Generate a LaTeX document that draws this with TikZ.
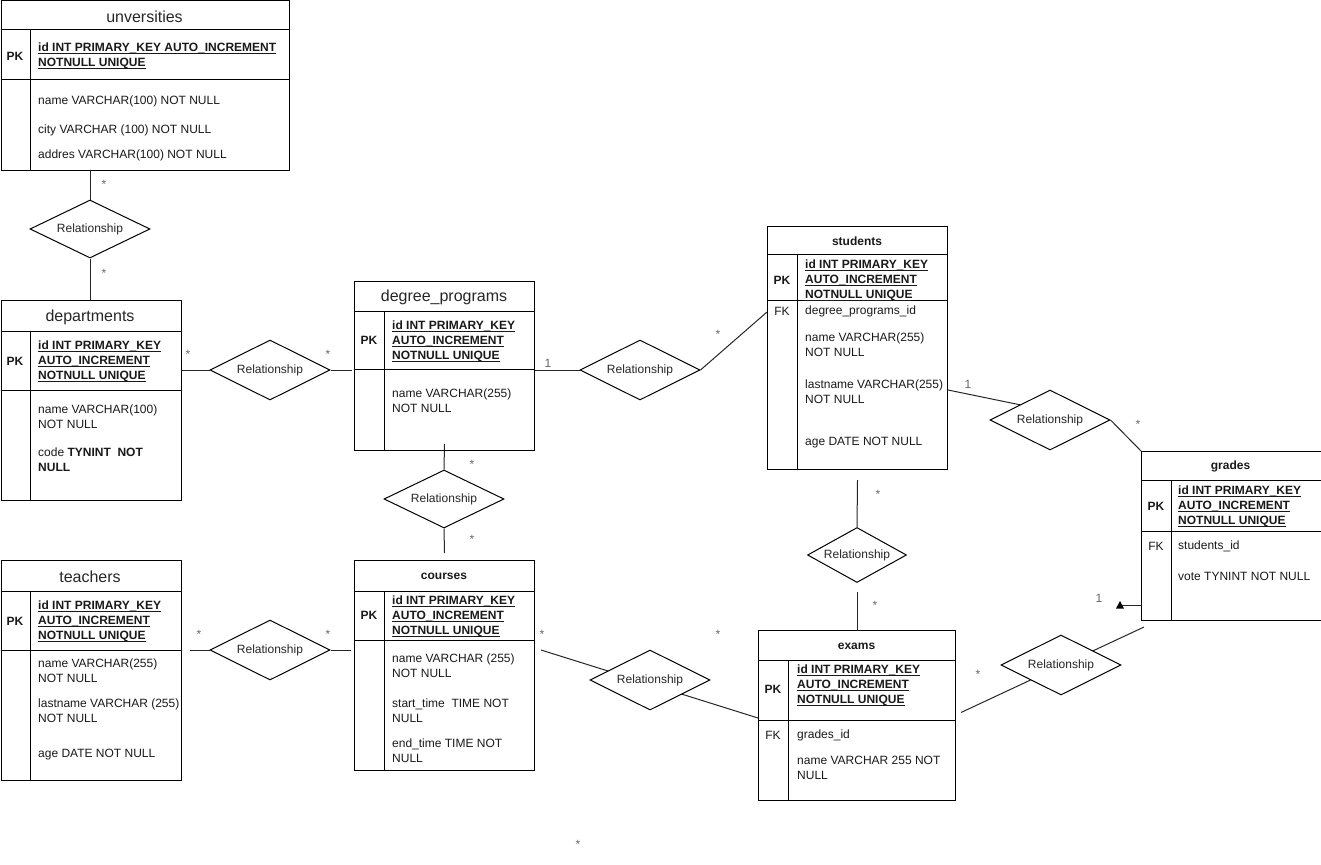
\documentclass[tikz,border=0pt]{standalone}
\usepackage{fontspec}
\setmainfont{Liberation Sans}
\usetikzlibrary{shapes.geometric,calc,backgrounds}
\newcommand{\idu}[1]{\sbox0{#1}\rlap{\rule[-2.5pt]{\wd0}{1pt}}\usebox0}
\newcommand{\fs}{\fontsize{12}{15}\selectfont}
\newcommand{\ft}{\fontsize{16}{19}\selectfont}
% #1 name, #2 x1, #3 y1, #4 x2, #5 y2, #6 title bottom, #7 key bottom
\newcommand{\ertable}[7]{%
  \node[tbl, anchor=north west, minimum width={#4-#2}, minimum height={#5-#3}] (#1) at (#2,#3) {};
  \draw[line width=1pt] (#2,#6) -- (#4,#6);
  \draw[line width=1pt] (#2,#7) -- (#4,#7);
  \draw[line width=1pt] (#2+30,#6) -- (#2+30,#5);
}
\begin{document}
\begin{tikzpicture}[x=1pt,y=-1pt,
  tbl/.style={draw, line width=1pt, inner sep=0pt},
  txt/.style={anchor=west, align=left, inner sep=0pt, font=\fs, text=black!90, yshift=-1pt},
  idt/.style={anchor=west, align=left, inner sep=0pt, font=\fs\bfseries, text=black!90, yshift=-1pt},
  ttl/.style={inner sep=0pt, font=\ft, text=black!85, yshift=-1pt},
  bttl/.style={inner sep=0pt, font=\fs\bfseries, text=black!90, yshift=-1pt},
  keyl/.style={inner sep=0pt, font=\fs\bfseries, text=black!90, yshift=-1pt},
  fkl/.style={inner sep=0pt, font=\fs, text=black!90, yshift=-1pt},
  rel/.style={diamond, draw, fill=white, aspect=2, inner sep=0pt, line width=1pt,
              minimum width=120pt, minimum height=60pt, font=\fs, text=black!85},
  card/.style={inner sep=0pt, font=\fs, text=black!60},
  conn/.style={line width=1pt, draw=black!85}]
\useasboundingbox (0,0) rectangle (1321,864);

% ---------- tables ----------
\ertable{univ}{0.5}{0.5}{289}{170}{30}{80}
\node[ttl] (univ-t) at (144.5,16) {unversities};
\node[keyl] (univ-pk) at (15,55) {PK};
\node[idt] (univ-id) at (38,55) {\idu{id INT PRIMARY\_KEY AUTO\_INCREMENT}\\\idu{NOTNULL UNIQUE}};
\node[txt] (univ-a1) at (38,100) {name VARCHAR(100) NOT NULL};
\node[txt] (univ-a2) at (38,129) {city VARCHAR (100) NOT NULL};
\node[txt] (univ-a3) at (38,154) {addres VARCHAR(100) NOT NULL};

\ertable{dept}{0.5}{300}{181}{500}{331}{390}
\node[ttl] (dept-t) at (90,316) {departments};
\node[keyl] (dept-pk) at (15,360) {PK};
\node[idt] (dept-id) at (38,360) {\idu{id INT PRIMARY\_KEY}\\\idu{AUTO\_INCREMENT}\\\idu{NOTNULL UNIQUE}};
\node[txt] (dept-a1) at (38,415.5) {name VARCHAR(100)\\NOT NULL};
\node[txt] (dept-a2) at (38,458.5) {code \textbf{TYNINT\ \ NOT}\\\textbf{NULL}};

\ertable{dpr}{354}{281}{534}{450}{311}{369}
\node[ttl] (dpr-t) at (444,296) {degree\_programs};
\node[keyl] (dpr-pk) at (369,339) {PK};
\node[idt] (dpr-id) at (392,340) {\idu{id INT PRIMARY\_KEY}\\\idu{AUTO\_INCREMENT}\\\idu{NOTNULL UNIQUE}};
\node[txt] (dpr-a1) at (392,400) {name VARCHAR(255)\\NOT NULL};

\ertable{stu}{767}{226}{947}{469}{254}{300}
\node[bttl] (stu-t) at (857,240) {students};
\node[keyl] (stu-pk) at (782,279) {PK};
\node[idt] (stu-id) at (805,279) {\idu{id INT PRIMARY\_KEY}\\\idu{AUTO\_INCREMENT}\\\idu{NOTNULL UNIQUE}};
\node[fkl] (stu-fk) at (782,310) {FK};
\node[txt] (stu-a0) at (805,310) {degree\_programs\_id};
\node[txt] (stu-a1) at (805,343.5) {name VARCHAR(255)\\NOT NULL};
\node[txt] (stu-a2) at (805,390.5) {lastname VARCHAR(255)\\NOT NULL};
\node[txt] (stu-a3) at (805,442) {age DATE NOT NULL};

\ertable{grd}{1141}{451}{1320.5}{620}{480}{531}
\node[bttl] (grd-t) at (1230.5,465) {grades};
\node[keyl] (grd-pk) at (1156,505) {PK};
\node[idt] (grd-id) at (1178,505) {\idu{id INT PRIMARY\_KEY}\\\idu{AUTO\_INCREMENT}\\\idu{NOTNULL UNIQUE}};
\node[fkl] (grd-fk) at (1156,545) {FK};
\node[txt] (grd-a0) at (1178,545) {students\_id};
\node[txt] (grd-a1) at (1178,575) {vote TYNINT NOT NULL};

\ertable{crs}{354}{560}{534}{770}{591}{640}
\node[bttl] (crs-t) at (444,575) {courses};
\node[keyl] (crs-pk) at (369,614) {PK};
\node[idt] (crs-id) at (392,615) {\idu{id INT PRIMARY\_KEY}\\\idu{AUTO\_INCREMENT}\\\idu{NOTNULL UNIQUE}};
\node[txt] (crs-a1) at (392,664.5) {name VARCHAR (255)\\NOT NULL};
\node[txt] (crs-a2) at (392,709.5) {start\_time\ \ TIME NOT\\NULL};
\node[txt] (crs-a3) at (392,749.5) {end\_time TIME NOT\\NULL};

\ertable{tch}{0.5}{560}{181}{780}{591}{650}
\node[ttl] (tch-t) at (90,576) {teachers};
\node[keyl] (tch-pk) at (15,620) {PK};
\node[idt] (tch-id) at (38,620) {\idu{id INT PRIMARY\_KEY}\\\idu{AUTO\_INCREMENT}\\\idu{NOTNULL UNIQUE}};
\node[txt] (tch-a1) at (38,669.5) {name VARCHAR(255)\\NOT NULL};
\node[txt] (tch-a2) at (38,709.5) {lastname VARCHAR (255)\\NOT NULL};
\node[txt] (tch-a3) at (38,754) {age DATE NOT NULL};

\ertable{exm}{758}{630}{955}{800}{660}{720}
\node[bttl] (exm-t) at (856.5,645) {exams};
\node[keyl] (exm-pk) at (773,688) {PK};
\node[idt] (exm-id) at (797,684) {\idu{id INT PRIMARY\_KEY}\\\idu{AUTO\_INCREMENT}\\\idu{NOTNULL UNIQUE}};
\node[fkl] (exm-fk) at (773,734) {FK};
\node[txt] (exm-a0) at (797,734) {grades\_id};
\node[txt] (exm-a1) at (797,766.5) {name VARCHAR 255 NOT\\NULL};

% ---------- relationships ----------
\node[rel, minimum height=58pt] (d1) at (90,229) {Relationship};
\node[rel] (d2) at (270,370) {Relationship};
\node[rel] (d3) at (640,370) {Relationship};
\node[rel, minimum height=58pt] (d4) at (444,499) {Relationship};
\node[rel] (d5) at (1050,420) {Relationship};
\node[rel] (d6) at (1061,665) {Relationship};
\node[rel] (d7) at (650,680) {Relationship};
\node[rel, minimum width=99pt, minimum height=55pt] (d8) at (857,555) {Relationship};
\node[rel] (d9) at (270,650) {Relationship};

% ---------- connectors ----------
\coordinate (arrEnd) at (1120,605);
\begin{scope}[on background layer]
\draw[conn] (d1.north) -- (d1.north |- univ.south);
\draw[conn] (d1.south) -- (d1.south |- dept.north);
\draw[conn] (dept.east |- d2.west) -- (d2.west);
\draw[conn] (d2.east) -- ($(dpr.west |- d2.east)+(-2,0)$);
\draw[conn] (dpr.east |- d3.west) -- (d3.west);
\draw[conn] (d3.east) -- ($(stu.north west)+(0,86)$);
\draw[conn] ([yshift=7pt]dpr.south) -- (d4.north);
\draw[conn] (d4.south) -- ([yshift=7pt]crs.north);
\draw[conn] ($(d9.west)+(-20,0)$) -- (d9.west);
\draw[conn] (d9.east) -- ($(d9.east)+(20,0)$);
\draw[conn] ($(crs.north east)+(6,90)$) -- ($(exm.north west)+(0,88)$);
\draw[conn] ([yshift=-10pt]stu.south) -- (d8.north);
\draw[conn] ([yshift=-9pt]d8.south) -- (exm.north);
\draw[conn] ($(stu.north east)+(0,164)$) -- (d5.north west);
\draw[conn] (d5.east) -- (grd.north west);
\draw[conn] ($(grd.south west)+(3,6)$) -- ($(exm.east)+(5,-3)$);
\draw[conn] ($(grd.north west)+(0,154)$) -- (arrEnd);
\end{scope}
\fill[black] ($(arrEnd)+(-4,3.5)$) -- ($(arrEnd)+(4,3.5)$) -- ($(arrEnd)+(0,-4)$) -- cycle;

% ---------- cardinalities ----------
\node[card] (s1) at (104,184.5) {*};
\node[card] (s2) at (104,273.5) {*};
\node[card] (s3) at (188,354.5) {*};
\node[card] (s4) at (328,354.5) {*};
\node[card] (s5) at (718,334.5) {*};
\node[card] (s6) at (472,464.5) {*};
\node[card] (s7) at (472,539.5) {*};
\node[card] (s8) at (199,634.5) {*};
\node[card] (s9) at (328,634.5) {*};
\node[card] (s10) at (542,634.5) {*};
\node[card] (s11) at (718,634.5) {*};
\node[card] (s12) at (878,494.5) {*};
\node[card] (s13) at (875,605.5) {*};
\node[card] (s14) at (1138,424.5) {*};
\node[card] (s15) at (978,674.5) {*};
\node[card] (s16) at (578,844.5) {*};
\node[card] (o1) at (548,363) {1};
\node[card] (o2) at (968,384) {1};
\node[card] (o3) at (1099,598) {1};
\end{tikzpicture}
\end{document}
